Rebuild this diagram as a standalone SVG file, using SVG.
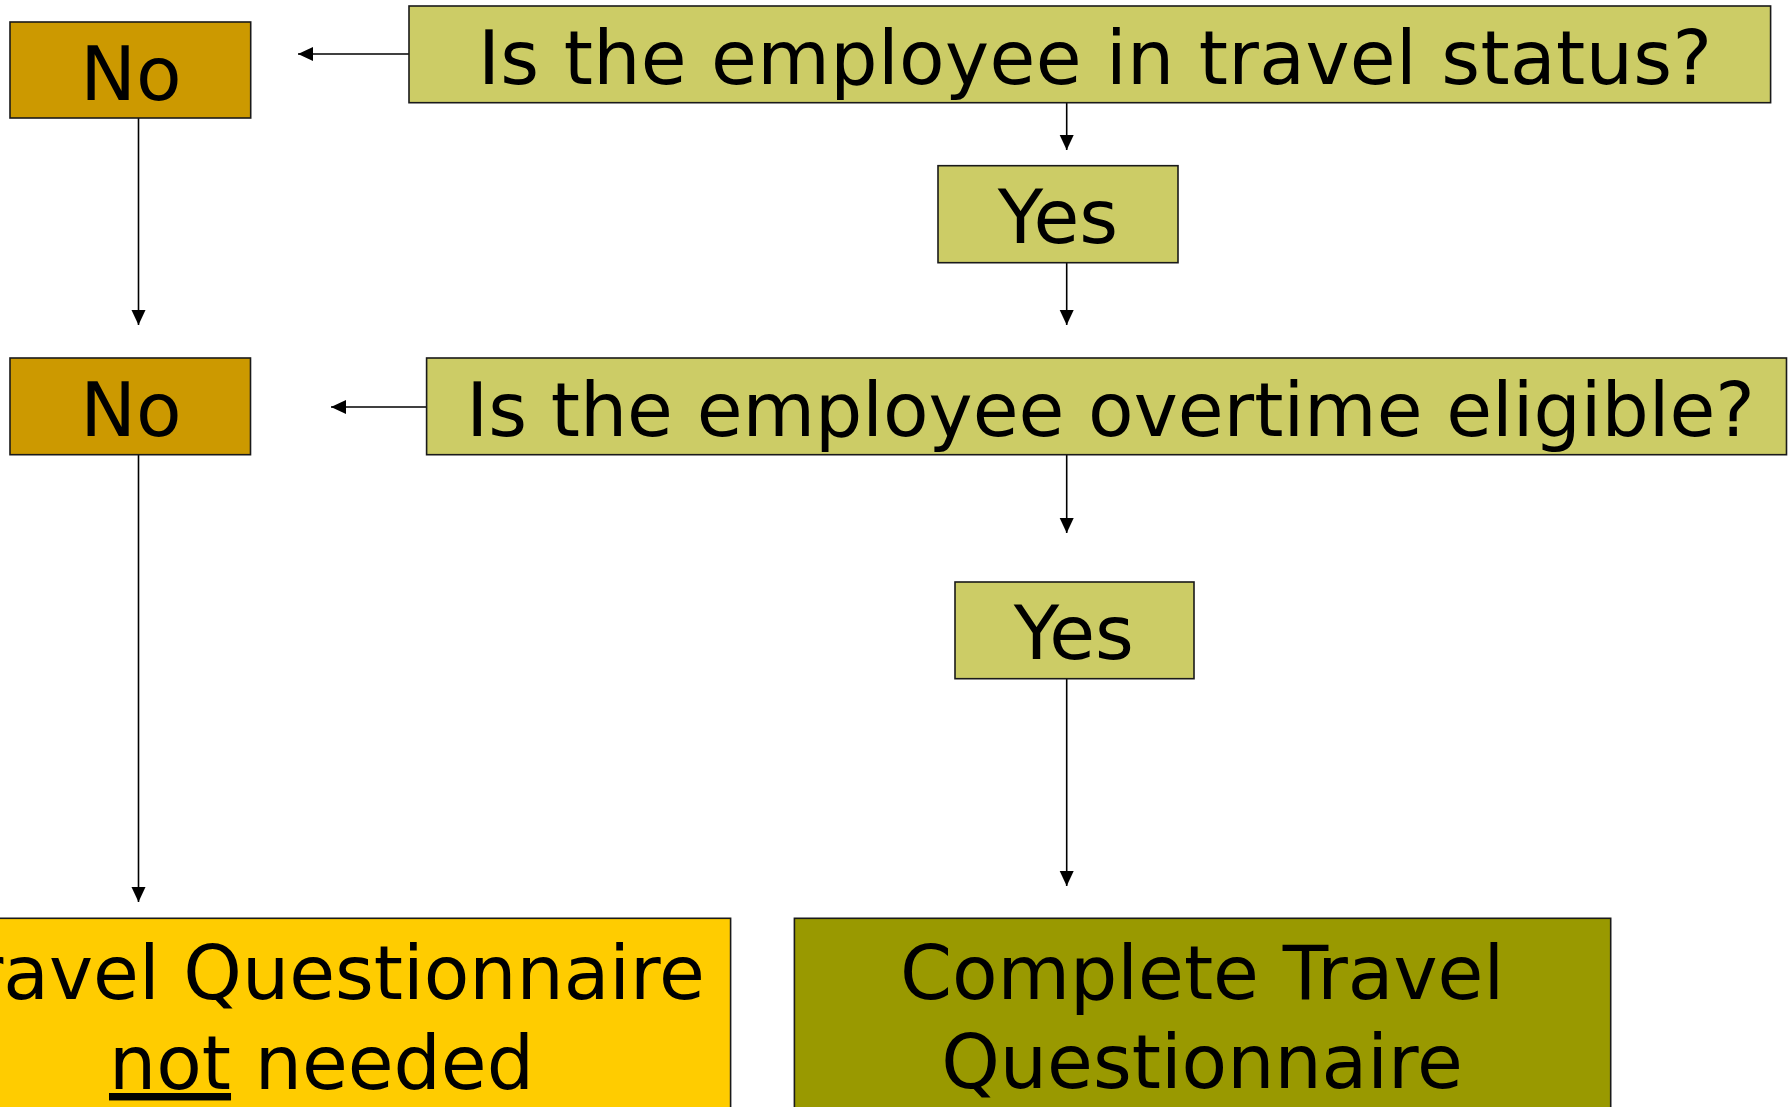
<svg xmlns="http://www.w3.org/2000/svg" width="1790" height="1107" viewBox="0 0 1790 1107">
<style>
.box{stroke:#1a1a1a;stroke-width:1.6}
.q{fill:#CCCC66}
.no{fill:#CC9900}
.t{font-family:"DejaVu Sans",Verdana,sans-serif;font-size:74.5px;fill:#000;text-anchor:middle}
.c{stroke:#000;stroke-width:1.6;fill:none;marker-end:url(#ah)}
</style>
<defs>
<marker id="ah" markerUnits="userSpaceOnUse" markerWidth="16" markerHeight="15" refX="15" refY="7" orient="auto">
<path d="M0,0 L15,7 L0,14 z" fill="#000"/>
</marker>
</defs>
<rect width="1790" height="1107" fill="#fff"/>
<g id="connectors">
<line class="c" x1="409" y1="54" x2="298" y2="54"/>
<line class="c" x1="138.5" y1="118" x2="138.5" y2="325"/>
<line class="c" x1="1066.7" y1="103" x2="1066.7" y2="150"/>
<line class="c" x1="1066.7" y1="263" x2="1066.7" y2="325"/>
<line class="c" x1="426.5" y1="407" x2="331" y2="407"/>
<line class="c" x1="1066.7" y1="455" x2="1066.7" y2="533"/>
<line class="c" x1="138.5" y1="455" x2="138.5" y2="902"/>
<line class="c" x1="1066.7" y1="679" x2="1066.7" y2="886"/>
</g>
<g id="q1">
<rect class="box q" x="409" y="6" width="1361.6" height="96.7"/>
<text class="t" x="1095" y="84" textLength="1234" lengthAdjust="spacing">Is the employee in travel status?</text>
</g>
<g id="no1">
<rect class="box no" x="10" y="22" width="240.7" height="96"/>
<text class="t" x="131" y="100">No</text>
</g>
<g id="yes1">
<rect class="box q" x="938" y="165.7" width="240" height="97"/>
<text class="t" x="1058" y="243.3">Yes</text>
</g>
<g id="q2">
<rect class="box q" x="426.6" y="358" width="1359.9" height="96.7"/>
<text class="t" x="1110.5" y="436">Is the employee overtime eligible?</text>
</g>
<g id="no2">
<rect class="box no" x="10" y="358" width="240.5" height="96.7"/>
<text class="t" x="131" y="436">No</text>
</g>
<g id="yes2">
<rect class="box q" x="955" y="582" width="239" height="96.7"/>
<text class="t" x="1073.8" y="659.3">Yes</text>
</g>
<g id="notneeded">
<rect class="box" fill="#FFCC00" x="-88" y="918.3" width="818.6" height="240"/>
<text class="t" x="321.5" y="999">Travel Questionnaire</text>
<text class="t" x="321.5" y="1089"><tspan text-decoration="underline">not</tspan> needed</text>
</g>
<g id="complete">
<rect class="box" fill="#999900" x="794.4" y="918.3" width="816.3" height="240"/>
<text class="t" x="1202" y="999">Complete Travel</text>
<text class="t" x="1202" y="1088">Questionnaire</text>
</g>
</svg>
